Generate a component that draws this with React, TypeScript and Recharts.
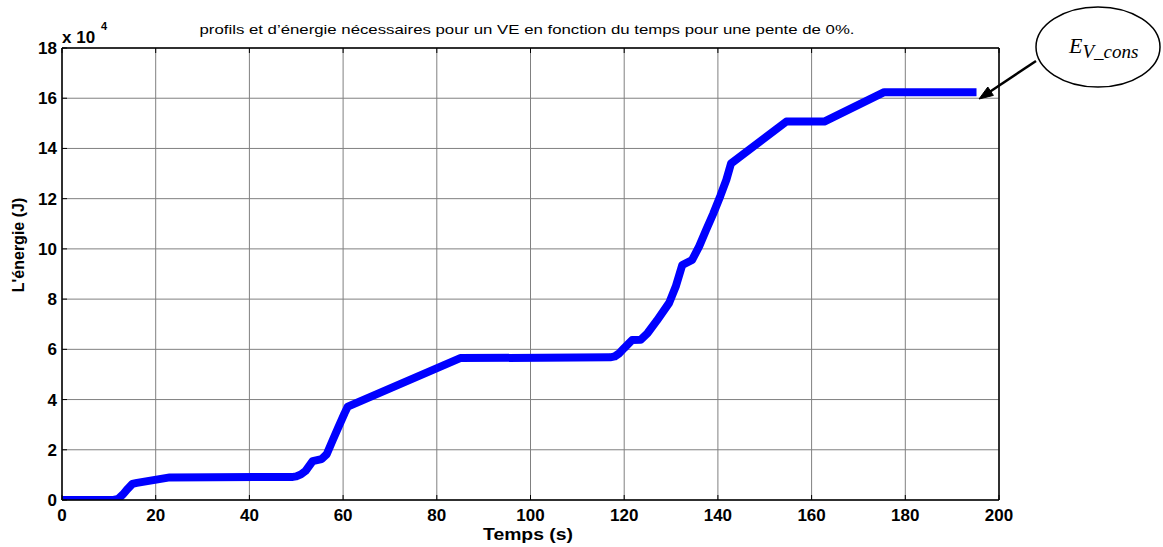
import React from "react";
import { LineChart, Line, XAxis, YAxis, CartesianGrid } from "recharts";

// Time (s)
const timeS = [0, 11, 12, 13, 14, 15, 16, 23, 49.3, 50, 51, 52, 53.5, 55.4, 56.5, 57.8, 59, 60.3, 61, 85, 117, 118, 119, 120, 121.7, 123.5, 125, 127, 129.6, 131, 132.4, 134.5, 136, 137.5, 139, 140.5, 141.8, 142.8, 154.6, 162.7, 175.5, 195.2];
// Energy (J)
const energyJ = [0, 0, 400, 2200, 4400, 6400, 6800, 9000, 9200, 9400, 10200, 11600, 15500, 16300, 18200, 23900, 29000, 34500, 37200, 56500, 56800, 57200, 58500, 60500, 63700, 63800, 66500, 71500, 78500, 85000, 93600, 95600, 101000, 107600, 114000, 121000, 127500, 134000, 150700, 150700, 162400, 162400];

const xTicks = [0, 20, 40, 60, 80, 100, 120, 140, 160, 180, 200];
const yTicks = [0, 20000, 40000, 60000, 80000, 100000, 120000, 140000, 160000, 180000];

const titleText = "profils et d\u2019énergie nécessaires pour un VE en fonction du temps pour une pente de 0%.";
const xLabel = "Temps (s)";
const yLabel = "L'énergie (J)";

const data = timeS.map((t, i) => ({ t, e: energyJ[i] }));

const FONT = "'Liberation Sans', Arial, sans-serif";

const XTickBottom = (props: any) => {
  const { x, y, payload } = props;
  return (
    <g>
      <line x1={x} x2={x} y1={y} y2={y - 5} stroke="#000" strokeWidth={1} />
      <text x={x} y={y + 21} textAnchor="middle" fontFamily={FONT} fontWeight="bold" fontSize={17} fill="#000">
        {payload.value}
      </text>
    </g>
  );
};
const XTickTop = (props: any) => {
  const { x, y } = props;
  return <line x1={x} x2={x} y1={y} y2={y + 5} stroke="#000" strokeWidth={1} />;
};
const YTickLeft = (props: any) => {
  const { x, y, payload } = props;
  return (
    <g>
      <line x1={x} x2={x + 5} y1={y} y2={y} stroke="#000" strokeWidth={1} />
      <text x={x - 5} y={y + 6} textAnchor="end" fontFamily={FONT} fontWeight="bold" fontSize={17} fill="#000">
        {payload.value / 10000}
      </text>
    </g>
  );
};
const YTickRight = (props: any) => {
  const { x, y } = props;
  return <line x1={x} x2={x - 5} y1={y} y2={y} stroke="#000" strokeWidth={1} />;
};

export default function App() {
  return (
    <div style={{ position: "absolute", left: 0, top: 0, width: 1163, height: 547, background: "#fff" }}>
      <LineChart width={1163} height={547} data={data} margin={{ top: 47, right: 163, bottom: 46, left: 0 }}>
        <CartesianGrid stroke="#808080" strokeWidth={1} />
        <XAxis
          dataKey="t"
          type="number"
          domain={[0, 200]}
          ticks={xTicks}
          interval={0}
          height={1}
          tickSize={0}
          tickMargin={0}
          tickLine={false}
          axisLine={{ stroke: "#000", strokeWidth: 1.5 }}
          tick={<XTickBottom />}
          allowDataOverflow
        />
        <XAxis
          xAxisId="top"
          orientation="top"
          dataKey="t"
          type="number"
          domain={[0, 200]}
          ticks={xTicks}
          interval={0}
          height={1}
          tickSize={0}
          tickMargin={0}
          tickLine={false}
          axisLine={{ stroke: "#000", strokeWidth: 1.5 }}
          tick={<XTickTop />}
        />
        <YAxis
          type="number"
          domain={[0, 180000]}
          ticks={yTicks}
          interval={0}
          width={62}
          tickSize={0}
          tickMargin={0}
          tickLine={false}
          axisLine={{ stroke: "#000", strokeWidth: 1.5 }}
          tick={<YTickLeft />}
          allowDataOverflow
        />
        <YAxis
          yAxisId="right"
          orientation="right"
          type="number"
          domain={[0, 180000]}
          ticks={yTicks}
          interval={0}
          width={1}
          tickSize={0}
          tickMargin={0}
          tickLine={false}
          axisLine={{ stroke: "#000", strokeWidth: 1.5 }}
          tick={<YTickRight />}
        />
        <Line
          type="linear"
          dataKey="e"
          stroke="#0000FF"
          strokeWidth={8}
          dot={false}
          strokeLinejoin="round"
          isAnimationActive={false}
        />
      </LineChart>
      <svg width={1163} height={547} style={{ position: "absolute", left: 0, top: 0, pointerEvents: "none" }}>
        <text x={527} y={34} textAnchor="middle" fontFamily={FONT} fontSize={13} textLength={655} lengthAdjust="spacingAndGlyphs" fill="#000">
          {titleText}
        </text>
        <text x={62} y={43} fontFamily={FONT} fontWeight="bold" fontSize={17} fill="#000">
          x 10
        </text>
        <text x={101} y={30} fontFamily={FONT} fontWeight="bold" fontSize={11} fill="#000">
          4
        </text>
        <text x={528} y={540} textAnchor="middle" fontFamily={FONT} fontWeight="bold" fontSize={16} textLength={90} lengthAdjust="spacingAndGlyphs" fill="#000">
          {xLabel}
        </text>
        <text
          x={0}
          y={0}
          transform="translate(24, 245) rotate(-90)"
          textAnchor="middle"
          fontFamily={FONT}
          fontWeight="bold"
          fontSize={16}
          fill="#000"
        >
          {yLabel}
        </text>
        <ellipse cx={1098} cy={47} rx={62} ry={40} fill="#fff" stroke="#000" strokeWidth={1.5} />
        <text x={1069} y={53} fontFamily="'Liberation Serif', 'DejaVu Serif', serif" fontStyle="italic" fontSize={22} fill="#000">
          E
          <tspan dy={5} fontSize={19}>V_cons</tspan>
        </text>
        <line x1={1036} y1={61} x2={988} y2={93} stroke="#000" strokeWidth={2.5} />
        <polygon points="979,99 993.4,95.4 987.8,87.0" fill="#000" stroke="#000" strokeWidth={1} />
      </svg>
    </div>
  );
}
